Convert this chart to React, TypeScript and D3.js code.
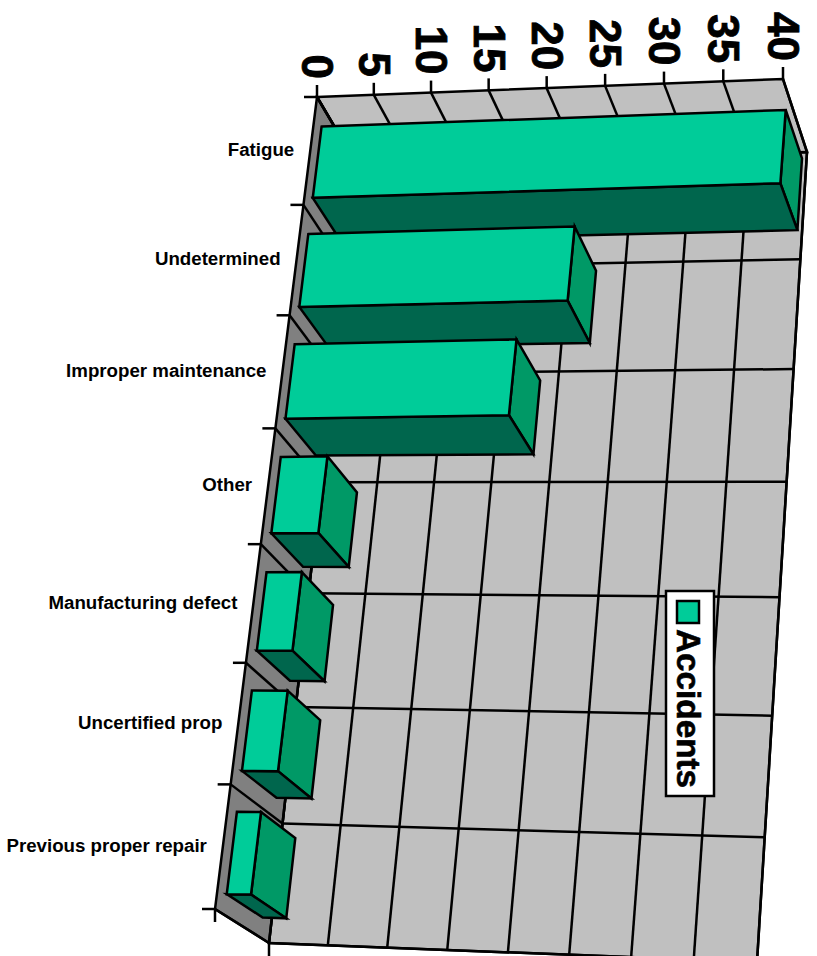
import React, { useEffect, useRef } from "react";
import * as d3 from "d3";

const categories = [
  "Fatigue",
  "Undetermined",
  "Improper maintenance",
  "Other",
  "Manufacturing defect",
  "Uncertified prop",
  "Previous proper repair",
];
const accidents = [40, 23, 19, 4, 3, 3, 2];
const valueTicks = [0, 5, 10, 15, 20, 25, 30, 35, 40];
const seriesName = "Accidents";

type Pt = [number, number];

// corners of the 3D box as they land on the page: value0/cat0, value40/cat0, value40/cat1, value0/cat1
const frontPlane: Pt[] = [[317, 97], [783, 79], [720, 915], [215, 909]];
const backPlane: Pt[] = [[357, 165], [807, 152], [757, 962], [269, 943]];

// unit square to quad, gives the perspective of each plane
function homography(q: Pt[]) {
  const [[x0, y0], [x1, y1], [x2, y2], [x3, y3]] = q;
  const dx1 = x1 - x2, dx2 = x3 - x2, sx = x0 - x1 + x2 - x3;
  const dy1 = y1 - y2, dy2 = y3 - y2, sy = y0 - y1 + y2 - y3;
  const det = dx1 * dy2 - dx2 * dy1;
  const g = (sx * dy2 - dx2 * sy) / det;
  const h = (dx1 * sy - sx * dy1) / det;
  return (u: number, t: number): Pt => {
    const w = g * u + h * t + 1;
    return [
      ((x1 - x0 + g * x1) * u + (x3 - x0 + h * x3) * t + x0) / w,
      ((y1 - y0 + g * y1) * u + (y3 - y0 + h * y3) * t + y0) / w,
    ];
  };
}

const front = homography(frontPlane);
const back = homography(backPlane);

const valueScale = d3.scaleLinear().domain([0, 40]).range([0, 1]);
const catScale = d3.scaleBand<string>().domain(categories).range([0, 1]);

const project = (value: number, t: number, depth: number): Pt => {
  const u = valueScale(value);
  const a = front(u, t);
  const b = back(u, t);
  return [a[0] + (b[0] - a[0]) * depth, a[1] + (b[1] - a[1]) * depth];
};

const BAR_T0 = 0.17;
const BAR_T1 = 0.835;
const BAR_D0 = 0.17;
const BAR_D1 = 0.84;

const STROKE = 2.5;
const line = d3.line();

export default function App() {
  const ref = useRef<SVGSVGElement>(null);

  useEffect(() => {
    const svg = d3.select(ref.current);
    svg.selectAll("*").remove();

    const poly = (pts: Pt[], fill: string) =>
      svg
        .append("path")
        .attr("d", line(pts) + "Z")
        .attr("fill", fill)
        .attr("stroke", "#000")
        .attr("stroke-width", STROKE)
        .attr("stroke-linejoin", "miter");
    const seg = (a: Pt, b: Pt) =>
      svg
        .append("line")
        .attr("x1", a[0])
        .attr("y1", a[1])
        .attr("x2", b[0])
        .attr("y2", b[1])
        .attr("stroke", "#000")
        .attr("stroke-width", STROKE);

    const step = catScale.step();
    const boundaries = [...categories.map((c) => catScale(c) as number), 1];

    // walls
    poly(
      [project(0, 0, 1), project(40, 0, 1), project(40, 1, 1), project(0, 1, 1)],
      "#C0C0C0"
    );
    poly(
      [project(0, 0, 0), project(40, 0, 0), project(40, 0, 1), project(0, 0, 1)],
      "#C0C0C0"
    );
    poly(
      [project(0, 0, 0), project(0, 0, 1), project(0, 1, 1), project(0, 1, 0)],
      "#808080"
    );

    // grid
    valueTicks.forEach((v) => {
      seg(project(v, 0, 0), project(v, 0, 1));
      seg(project(v, 0, 1), project(v, 1, 1));
    });
    boundaries.forEach((t) => {
      seg(project(0, t, 0), project(0, t, 1));
      seg(project(0, t, 1), project(40, t, 1));
    });

    // tick marks
    valueTicks.forEach((v) => {
      const [x, y] = project(v, 0, 0);
      seg([x, y], [x, y - 12]);
      svg
        .append("text")
        .attr("transform", `translate(${x - 15},${y - 18}) rotate(90)`)
        .attr("text-anchor", "end")
        .attr("font-family", "Liberation Sans")
        .attr("font-weight", "bold")
        .attr("font-size", 44)
        .attr("stroke", "#000")
        .attr("stroke-width", 0.8)
        .text(v);
    });
    boundaries.forEach((t) => {
      const [x, y] = project(0, t, 0);
      seg([x - 13, y], [x, y]);
    });
    [project(0, 1, 0), project(0, 1, 1)].forEach(([x, y]) => seg([x, y], [x, y + 13]));

    // category labels
    categories.forEach((c) => {
      const [x, y] = project(0, (catScale(c) as number) + step / 2, 0);
      svg
        .append("text")
        .attr("x", x - 16)
        .attr("y", y + 5.5)
        .attr("text-anchor", "end")
        .attr("font-family", "Liberation Sans")
        .attr("font-weight", "bold")
        .attr("font-size", 18.7)
        .text(c);
    });

    // bars, top one first so the next overlaps it
    categories.forEach((c, i) => {
      const v = accidents[i];
      const t0 = (catScale(c) as number) + step * BAR_T0;
      const t1 = (catScale(c) as number) + step * BAR_T1;
      poly(
        [project(v, t0, BAR_D0), project(v, t0, BAR_D1), project(v, t1, BAR_D1), project(v, t1, BAR_D0)],
        "#009966"
      );
      poly(
        [project(0, t1, BAR_D0), project(v, t1, BAR_D0), project(v, t1, BAR_D1), project(0, t1, BAR_D1)],
        "#00664D"
      );
      poly(
        [project(0, t0, BAR_D0), project(v, t0, BAR_D0), project(v, t1, BAR_D0), project(0, t1, BAR_D0)],
        "#00CC99"
      );
    });

    // legend
    svg
      .append("rect")
      .attr("x", 666)
      .attr("y", 591)
      .attr("width", 48)
      .attr("height", 205)
      .attr("fill", "#fff")
      .attr("stroke", "#000")
      .attr("stroke-width", 2.5);
    svg
      .append("rect")
      .attr("x", 677)
      .attr("y", 601)
      .attr("width", 22)
      .attr("height", 22)
      .attr("fill", "#00CC99")
      .attr("stroke", "#000")
      .attr("stroke-width", 2.5);
    svg
      .append("text")
      .attr("transform", "translate(676.5,629) rotate(90)")
      .attr("font-family", "Liberation Sans")
      .attr("font-weight", "bold")
      .attr("font-size", 33.3)
      .attr("stroke", "#000")
      .attr("stroke-width", 0.6)
      .text(seriesName);
  }, []);

  return (
    <svg
      ref={ref}
      width={817}
      height={956}
      style={{ position: "absolute", left: 0, top: 0, background: "#fff" }}
    />
  );
}
